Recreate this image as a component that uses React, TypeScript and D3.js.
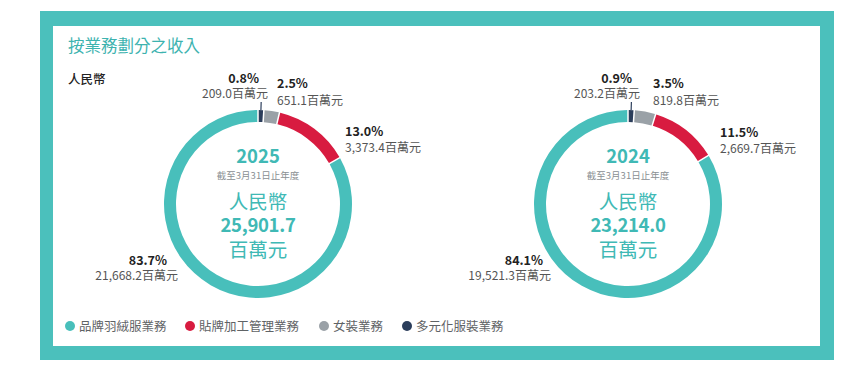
import { useEffect, useRef } from "react";
import * as d3 from "d3";

// 業務分類（圖例順序）
const categories = ["品牌羽絨服業務", "貼牌加工管理業務", "女裝業務", "多元化服裝業務"];
const colors = ["#48bfbb", "#d81b40", "#9aa1a7", "#2b3d5b"];

// 各年度收入（百萬元）及佔比
const years = ["2025", "2024"];
const totals = ["25,901.7", "23,214.0"];
const values2025 = [21668.2, 3373.4, 651.1, 209.0];
const values2024 = [19521.3, 2669.7, 819.8, 203.2];
const pct2025 = ["83.7%", "13.0%", "2.5%", "0.8%"];
const pct2024 = ["84.1%", "11.5%", "3.5%", "0.9%"];

const FONT = "'Noto Sans CJK TC', 'Noto Sans', sans-serif";

function App() {
  const ref = useRef<SVGSVGElement>(null);

  useEffect(() => {
    if (!ref.current) return;
    const svg = d3.select(ref.current);
    svg.selectAll("*").remove();

    // 外框
    svg.append("rect").attr("x", 40).attr("y", 11).attr("width", 794).attr("height", 349).attr("fill", "#4bc0bc");
    svg.append("rect").attr("x", 53).attr("y", 26).attr("width", 767).attr("height", 320).attr("fill", "#fff");

    svg.append("text").attr("x", 68).attr("y", 52)
      .style("font-family", FONT).style("font-size", "16.5px").style("fill", "#3db3af")
      .text("按業務劃分之收入");
    svg.append("text").attr("x", 68).attr("y", 84)
      .style("font-family", FONT).style("font-size", "12.5px").style("font-weight", 500).style("fill", "#222")
      .text("人民幣");

    const series = [
      { year: years[0], total: totals[0], values: values2025, pct: pct2025, cx: 258, cy: 204 },
      { year: years[1], total: totals[1], values: values2024, pct: pct2024, cx: 628, cy: 204 },
    ];

    // 標籤相對圓心的位置（p: 百分比, v: 金額, a: 對齊）
    const labelLayout = [
      [
        { p: [-91, 61], v: [-80, 76], a: "end" },
        { p: [87, -68], v: [87, -52], a: "start" },
        { p: [19, -116], v: [19, -99], a: "start" },
        { p: [1, -121], v: [10, -106], a: "end" },
      ],
      [
        { p: [-85, 61], v: [-77, 76], a: "end" },
        { p: [92, -67], v: [92, -51], a: "start" },
        { p: [25, -116], v: [25, -99], a: "start" },
        { p: [4, -121], v: [12, -106], a: "end" },
      ],
    ];

    const rOuter = 94;
    const rInner = 82;
    const idx = d3.range(categories.length).reverse(); // 順時針：多元化、女裝、貼牌、品牌
    const arc = d3.arc<d3.PieArcDatum<number>>().innerRadius(rInner).outerRadius(rOuter);

    series.forEach((s, si) => {
      const g = svg.append("g").attr("transform", `translate(${s.cx},${s.cy})`);
      const arcs = d3.pie<number>().sort(null).value((i) => s.values[i]).padAngle(0.012)(idx);

      g.selectAll("path.slice").data(arcs).enter().append("path")
        .attr("class", "slice")
        .attr("d", arc)
        .attr("fill", (d) => colors[d.data]);

      // 最小扇區引線
      const small = arcs.find((d) => d.data === 3)!;
      const ma = (small.startAngle + small.endAngle) / 2;
      g.append("line")
        .attr("x1", Math.sin(ma) * rOuter).attr("y1", -Math.cos(ma) * rOuter)
        .attr("x2", Math.sin(ma) * (rOuter + 8)).attr("y2", -Math.cos(ma) * (rOuter + 8))
        .style("stroke", colors[3]).style("stroke-width", 1.2);

      // 中心文字
      const center = [
        { t: s.year, dy: -41, size: 18.5, w: 700, ls: 0 },
        { t: "截至3月31日止年度", dy: -25, size: 9.5, w: 400, fill: "#8a8f93", ls: 0 },
        { t: "人民幣", dy: 5, size: 19.5, w: 400, ls: 0 },
        { t: s.total, dy: 28, size: 18.5, w: 700, ls: -0.3 },
        { t: "百萬元", dy: 53, size: 19.5, w: 400, ls: 0 },
      ];
      center.forEach((c) => {
        g.append("text").attr("x", 0).attr("y", c.dy).attr("text-anchor", "middle")
          .style("font-family", FONT).style("font-size", `${c.size}px`).style("font-weight", c.w)
          .style("letter-spacing", `${c.ls}px`)
          .style("fill", c.fill || "#40b9b5")
          .text(c.t);
      });

      // 各扇區標籤
      categories.forEach((_, i) => {
        const L = labelLayout[si][i];
        g.append("text").attr("x", L.p[0]).attr("y", L.p[1]).attr("text-anchor", L.a)
          .style("font-family", FONT).style("font-size", "12.5px").style("font-weight", 700).style("fill", "#222")
          .text(s.pct[i]);
        g.append("text").attr("x", L.v[0]).attr("y", L.v[1]).attr("text-anchor", L.a)
          .style("font-family", FONT).style("font-size", "12px").style("fill", "#555")
          .text(`${d3.format(",.1f")(s.values[i])}百萬元`);
      });
    });

    // 圖例
    const legendX = d3.scaleOrdinal<string, number>().domain(categories).range([70, 190, 324, 407]);
    const lg = svg.append("g").selectAll("g").data(categories).enter().append("g")
      .attr("transform", (d) => `translate(${legendX(d)},326)`);
    lg.append("circle").attr("r", 5).attr("fill", (_, i) => colors[i]);
    lg.append("text").attr("x", 9).attr("y", 4.5)
      .style("font-family", FONT).style("font-size", "12.5px").style("fill", "#5f6366")
      .text((d) => d);
  }, []);

  return (
    <svg
      ref={ref}
      width={865}
      height={374}
      viewBox="0 0 865 374"
      style={{ position: "absolute", left: 0, top: 0, background: "#fff" }}
    />
  );
}

export default App;
